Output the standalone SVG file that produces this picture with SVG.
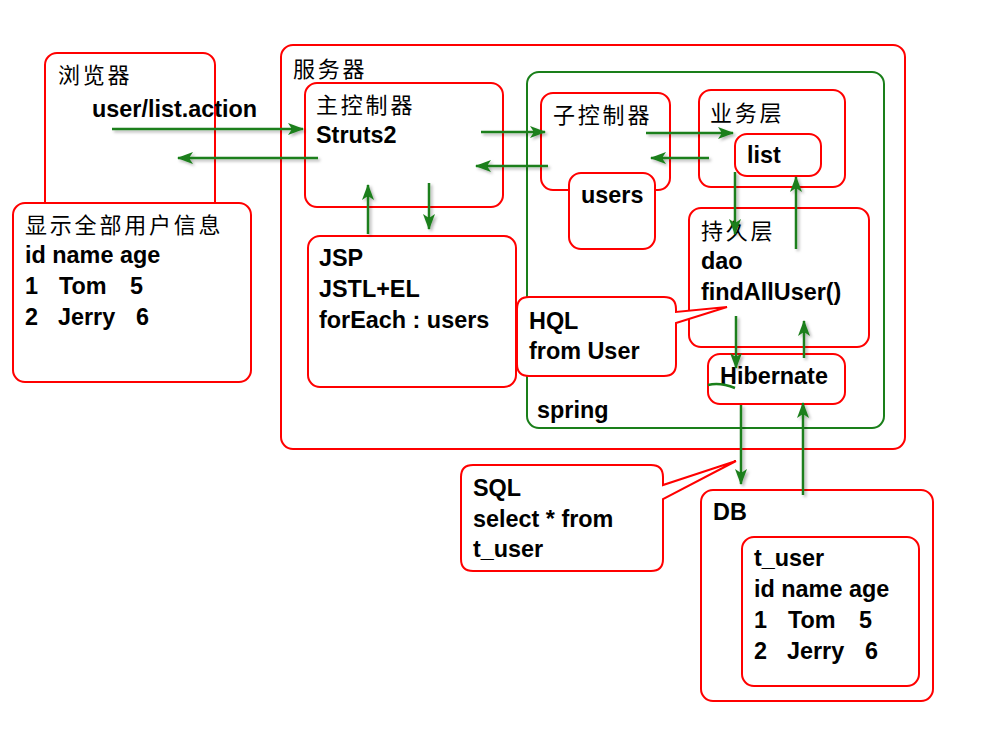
<svg xmlns="http://www.w3.org/2000/svg" width="991" height="738" viewBox="0 0 991 738">
<defs>
<style>
.box{fill:#fff;stroke:#ff0000;stroke-width:2}
.gbox{fill:none;stroke:#1a7f1a;stroke-width:2}
.t{font-family:"Liberation Sans",Arial,sans-serif;font-weight:bold;font-size:23.4px;fill:#000}
.c{font-family:"Noto Sans CJK SC",sans-serif;font-size:22px;letter-spacing:2.8px;fill:#000}
.a{fill:none;stroke:#1a7f1a;stroke-width:2.5;marker-end:url(#ah)}
</style>
<marker id="ah" viewBox="0 0 16 12" refX="15" refY="6" markerWidth="16" markerHeight="12" markerUnits="userSpaceOnUse" orient="auto">
<path d="M0,0 L16,6 L0,12 L4,6 Z" fill="#1a7f1a"/>
</marker>
<filter id="sh" x="-20%" y="-20%" width="140%" height="140%">
<feDropShadow dx="2" dy="2" stdDeviation="1.5" flood-color="#000" flood-opacity="0.3"/>
</filter>
</defs>
<rect width="991" height="738" fill="#fff"/>

<g id="browser">
<rect class="box" x="45" y="53" width="170" height="180" rx="12"/>
<text class="c" x="58" y="83">浏览器</text>
<text class="t" x="92" y="117">user/list.action</text>
</g>

<g id="display">
<rect class="box" x="13" y="203" width="238" height="179" rx="12"/>
<text class="c" x="25" y="233">显示全部用户信息</text>
<text class="t" x="25" y="263">id name age</text>
<text class="t" y="294"><tspan x="25">1</tspan><tspan x="59">Tom</tspan><tspan x="130">5</tspan></text>
<text class="t" y="325"><tspan x="25">2</tspan><tspan x="58">Jerry</tspan><tspan x="136">6</tspan></text>
</g>

<g id="server">
<rect class="box" x="281" y="45" width="624" height="404" rx="12"/>
<text class="c" x="293" y="77">服务器</text>
</g>

<g id="spring">
<rect class="gbox" x="527" y="72" width="357" height="356" rx="12"/>
<text class="t" x="537" y="418">spring</text>
</g>

<g id="main-controller">
<rect class="box" x="305" y="83" width="198" height="124" rx="12"/>
<text class="c" x="316" y="113">主控制器</text>
<text class="t" x="316" y="143">Struts2</text>
</g>

<g id="jsp">
<rect class="box" x="308" y="236" width="208" height="151" rx="12"/>
<text class="t" x="319" y="266">JSP</text>
<text class="t" x="319" y="297">JSTL+EL</text>
<text class="t" x="319" y="328">forEach : users</text>
</g>

<g id="sub-controller">
<rect class="box" x="541" y="93" width="129" height="97" rx="12"/>
<text class="c" x="553" y="123">子控制器</text>
</g>

<g id="users">
<rect class="box" x="569" y="173" width="86" height="76" rx="12"/>
<text class="t" x="581" y="203">users</text>
</g>

<g id="service">
<rect class="box" x="699" y="90" width="146" height="97" rx="12"/>
<text class="c" x="710" y="121">业务层</text>
</g>

<g id="list">
<rect class="box" x="735" y="134" width="86" height="42" rx="12"/>
<text class="t" x="747" y="163">list</text>
</g>

<g id="dao">
<rect class="box" x="689" y="208" width="180" height="139" rx="12"/>
<text class="c" x="701" y="239">持久层</text>
<text class="t" x="701" y="269">dao</text>
<text class="t" x="701" y="300">findAllUser()</text>
</g>

<g id="hibernate">
<rect class="box" x="708" y="354" width="137" height="50" rx="12"/>
<text class="t" x="720" y="384">Hibernate</text>
<path d="M708,385 Q720,382 735,388" fill="none" stroke="#1a7f1a" stroke-width="2.5"/>
</g>

<g id="hql">
<path class="box" d="M529,297 H664 Q676,297 676,309 V312 L727,307 L676,323 V364 Q676,376 664,376 H529 Q517,376 517,364 V309 Q517,297 529,297 Z"/>
<text class="t" x="529" y="329">HQL</text>
<text class="t" x="529" y="359">from User</text>
</g>

<g id="sql">
<path class="box" d="M473,465 H651 Q663,465 663,477 V485 L736,461 L663,499 V559 Q663,571 651,571 H473 Q461,571 461,559 V477 Q461,465 473,465 Z"/>
<text class="t" x="473" y="496">SQL</text>
<text class="t" x="473" y="527">select * from</text>
<text class="t" x="473" y="557">t_user</text>
</g>

<g id="db">
<rect class="box" x="701" y="490" width="232" height="211" rx="12"/>
<text class="t" x="713" y="520">DB</text>
</g>

<g id="t_user">
<rect class="box" x="742" y="537" width="177" height="149" rx="12"/>
<text class="t" x="754" y="566">t_user</text>
<text class="t" x="754" y="597">id name age</text>
<text class="t" y="628"><tspan x="754">1</tspan><tspan x="788">Tom</tspan><tspan x="859">5</tspan></text>
<text class="t" y="659"><tspan x="754">2</tspan><tspan x="787">Jerry</tspan><tspan x="865">6</tspan></text>
</g>

<g id="connectors" filter="url(#sh)">
<path class="a" d="M112,129 H303"/>
<path class="a" d="M318,158 H178"/>
<path class="a" d="M481,132 H545"/>
<path class="a" d="M548,166 H476"/>
<path class="a" d="M646,133 H733"/>
<path class="a" d="M709,158 H651"/>
<path class="a" d="M429,183 V229"/>
<path class="a" d="M368,234 V185"/>
<path class="a" d="M735,172 V234"/>
<path class="a" d="M796,249 V177"/>
<path class="a" d="M736,316 V368"/>
<path class="a" d="M804,358 V321"/>
<path class="a" d="M741,405 V484"/>
<path class="a" d="M803,495 V403"/>
</g>
</svg>
